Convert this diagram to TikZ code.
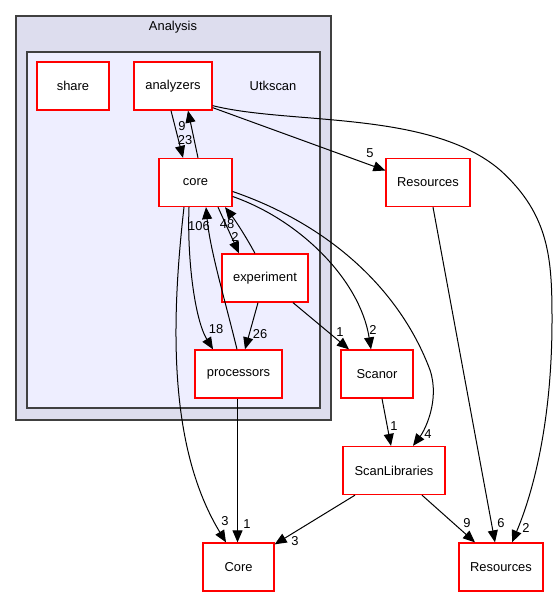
\documentclass[tikz,border=0pt]{standalone}
\usepackage{fontspec}
\setmainfont{Liberation Sans}
\usetikzlibrary{arrows.meta}
\definecolor{clusterout}{HTML}{DDDDEE}
\definecolor{clusterin}{HTML}{EEEEFF}
\definecolor{clusterline}{HTML}{404040}

\begin{document}
\begin{tikzpicture}[x=1pt, y=-1pt, font=\fontsize{12.9}{15}\selectfont,
  dir/.style={rectangle, draw=red, fill=white, line width=1.3pt, inner sep=0pt, minimum height=48pt},
  dep/.style={-{Triangle[length=12pt,width=10pt]}, line width=1pt},
  num/.style={inner sep=0pt}]

\useasboundingbox (0, 0) rectangle (557, 596);

\draw[fill=clusterout, draw=clusterline, line width=1.4pt] (16, 16) rectangle (331, 420);
\node (analysis) at (173, 27) {Analysis};
\draw[fill=clusterin, draw=clusterline, line width=1.4pt] (27, 52) rectangle (320, 408);
\node (utkscan) at (273, 86) {Utkscan};

\node (share)[dir, minimum width=72pt] at (73, 86) {share};
\node (analyzers)[dir, minimum width=78pt] at (173, 86) {analyzers};
\node (core)[dir, minimum width=73pt] at (195.5, 182.5) {core};
\node (experiment)[dir, minimum width=86pt] at (265, 278) {experiment};
\node (processors)[dir, minimum width=87pt] at (238.5, 374) {processors};

\node (resA)[dir, minimum width=84pt] at (428, 182.5) {Resources};
\node (scanor)[dir, minimum width=72pt] at (377, 374) {Scanor};
\node (scanlib)[dir, minimum width=102pt] at (394, 470.5) {ScanLibraries};
\node (coreB)[dir, minimum width=71pt] at (238.5, 567) {Core};
\node (resB)[dir, minimum width=84pt] at (501, 567) {Resources};


\draw[dep] ([xshift=-2pt]analyzers.south) -- ([xshift=-12.5pt]core.north) node[num] at (185, 140) {23};
\draw[dep] ([xshift=2.5pt]core.north) -- ([xshift=15pt]analyzers.south) node[num] at (182, 126) {9};
\draw[dep] ([yshift=3pt]analyzers.south east) -- ([yshift=12pt]resA.west) node[num] at (370, 153) {5};
\draw[dep] ([yshift=5pt]analyzers.south east) .. controls (290, 125) and (430, 110) .. (500, 170)
  .. controls (550, 215) and (552, 260) .. (552, 320)
  .. controls (552, 430) and (530, 500) .. ([xshift=11pt]resB.north) node[num] at (526, 528) {2};

\draw[dep] ([xshift=22.5pt]core.south) -- ([xshift=-26pt]experiment.north) node[num] at (235, 237) {2};
\draw[dep] ([xshift=-10pt]experiment.north) .. controls (245, 235) and (235, 220) .. ([xshift=29.5pt]core.south) node[num] at (227, 224) {48};
\draw[dep] ([xshift=-1.5pt]processors.north) .. controls (225, 300) and (210, 250) .. ([xshift=10.5pt]core.south) node[num] at (199, 226) {106};
\draw[dep] ([xshift=-6.5pt]core.south) .. controls (187, 260) and (195, 320) .. ([xshift=-25.5pt]processors.north) node[num] at (216, 329) {18};
\draw[dep] ([xshift=-11.5pt]core.south) .. controls (170, 330) and (170, 450) .. ([xshift=-12.5pt]coreB.north) node[num] at (225, 521) {3};

\draw[dep] ([xshift=-7pt]experiment.south) -- ([xshift=6.5pt]processors.north) node[num] at (260, 334) {26};
\draw[dep] ([xshift=28pt]experiment.south) -- ([xshift=-28pt]scanor.north) node[num] at (340, 332) {1};
\draw[dep] ([yshift=-14pt]core.east) .. controls (300, 220) and (360, 280) .. ([xshift=-6pt]scanor.north) node[num] at (373, 330) {2};
\draw[dep] ([yshift=-9pt]core.east) .. controls (330, 225) and (400, 290) .. (430, 370)
  .. controls (440, 400) and (425, 430) .. ([xshift=19pt]scanlib.north) node[num] at (428, 434) {4};

\draw[dep] ([xshift=-1pt]processors.south) -- ([xshift=-1pt]coreB.north) node[num] at (247, 524) {1};
\draw[dep] ([xshift=5pt]scanor.south) -- ([xshift=-3pt]scanlib.north) node[num] at (394, 426) {1};
\draw[dep] ([xshift=-39pt]scanlib.south) -- ([yshift=-2pt]coreB.north east) node[num] at (295, 541) {3};
\draw[dep] ([xshift=28pt]scanlib.south) -- ([xshift=-26pt]resB.north) node[num] at (467, 523) {9};
\draw[dep] ([xshift=5pt]resA.south) -- ([xshift=-6pt]resB.north) node[num] at (501, 523) {6};

\end{tikzpicture}
\end{document}
